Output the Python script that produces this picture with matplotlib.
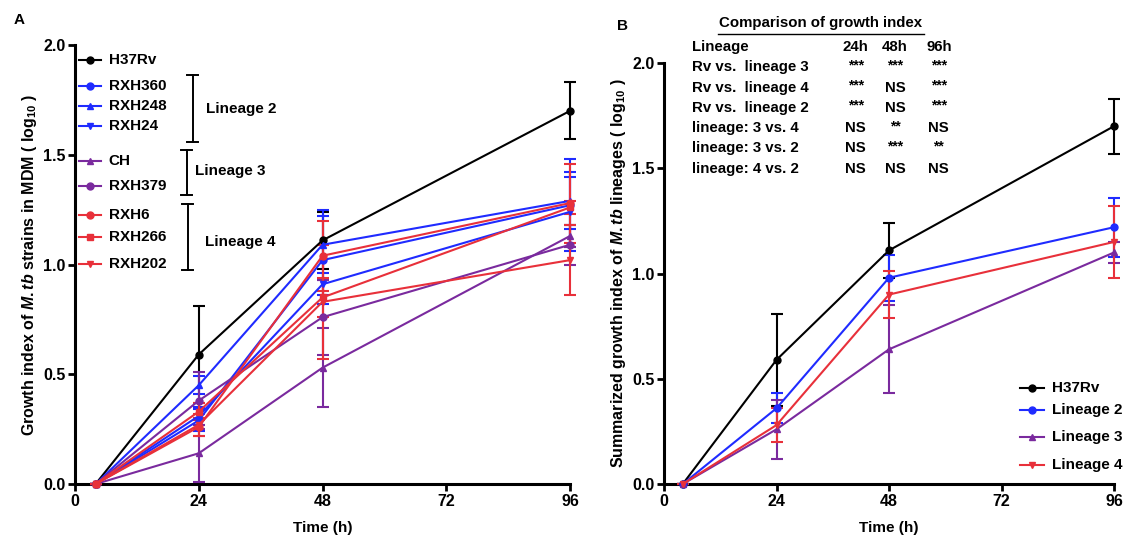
import matplotlib
matplotlib.use("Agg")
import matplotlib.pyplot as plt
import numpy as np

plt.rcParams['font.family'] = ['Liberation Sans', 'DejaVu Sans']
plt.rcParams['font.weight'] = 'bold'
plt.rcParams['mathtext.fontset'] = 'custom'
plt.rcParams['mathtext.it'] = 'Liberation Sans:italic:bold'
plt.rcParams['mathtext.rm'] = 'Liberation Sans:bold'

BLACK = '#000000'
BLUE = '#1f2bff'
PURPLE = '#7a2a9e'
RED = '#e8303a'

time_h = [4, 24, 48, 96]

# Panel A: individual strains
strains = ['H37Rv', 'RXH360', 'RXH248', 'RXH24', 'CH', 'RXH379', 'RXH6', 'RXH266', 'RXH202']
strain_colors = [BLACK, BLUE, BLUE, BLUE, PURPLE, PURPLE, RED, RED, RED]
strain_markers = ['o', 'o', '^', 'v', '^', 'o', 'o', 's', 'v']
strain_mean = [
    [0, 0.59, 1.11, 1.70],
    [0, 0.29, 1.02, 1.27],
    [0, 0.45, 1.09, 1.29],
    [0, 0.31, 0.91, 1.24],
    [0, 0.14, 0.53, 1.13],
    [0, 0.38, 0.76, 1.09],
    [0, 0.26, 1.04, 1.28],
    [0, 0.33, 0.85, 1.26],
    [0, 0.27, 0.83, 1.02],
]
strain_err = [
    [0, 0.22, 0.13, 0.13],
    [0, 0.05, 0.20, 0.21],
    [0, 0.04, 0.16, 0.13],
    [0, 0.04, 0.05, 0.16],
    [0, 0.13, 0.18, 0.05],
    [0, 0.13, 0.17, 0.09],
    [0, 0.04, 0.16, 0.18],
    [0, 0.04, 0.09, 0.03],
    [0, 0.05, 0.26, 0.16],
]

# Panel B: summarized lineages
lineages = ['H37Rv', 'Lineage 2', 'Lineage 3', 'Lineage 4']
lineage_colors = [BLACK, BLUE, PURPLE, RED]
lineage_markers = ['o', 'o', '^', 'v']
lineage_mean = [
    [0, 0.59, 1.11, 1.70],
    [0, 0.36, 0.98, 1.22],
    [0, 0.26, 0.64, 1.10],
    [0, 0.28, 0.90, 1.15],
]
lineage_err = [
    [0, 0.22, 0.13, 0.13],
    [0, 0.07, 0.11, 0.14],
    [0, 0.14, 0.21, 0.05],
    [0, 0.08, 0.11, 0.17],
]

# significance table
comparisons = ['Rv vs.  lineage 3', 'Rv vs.  lineage 4', 'Rv vs.  lineage 2',
               'lineage: 3 vs. 4', 'lineage: 3 vs. 2', 'lineage: 4 vs. 2']
sig_24h = ['***', '***', '***', 'NS', 'NS', 'NS']
sig_48h = ['***', 'NS', 'NS', '**', '***', 'NS']
sig_96h = ['***', '***', '***', 'NS', '**', 'NS']

TICK_FS = 11.5
LABEL_FS = 11
TABLE_FS = 10.8


def style_axes(ax, ylabel):
    ax.set_xlim(0, 96)
    ax.set_ylim(0, 2.0)
    ax.set_xticks([0, 24, 48, 72, 96])
    ax.set_yticks([0, 0.5, 1.0, 1.5, 2.0])
    ax.set_yticklabels(['0.0', '0.5', '1.0', '1.5', '2.0'])
    for s in ['top', 'right']:
        ax.spines[s].set_visible(False)
    for s in ['left', 'bottom']:
        ax.spines[s].set_linewidth(2.2)
    ax.tick_params(width=2, length=5, labelsize=TICK_FS, pad=2)
    for lab in ax.get_xticklabels() + ax.get_yticklabels():
        lab.set_fontweight('bold')
    ax.set_xlabel('Time (h)', fontsize=LABEL_FS, fontweight='bold', labelpad=9)
    ax.set_ylabel(ylabel, fontsize=LABEL_FS + 0.5, fontweight='bold', labelpad=3)


def draw_series(ax, means, errs, colors, markers):
    for m, e, c, mk in zip(means, errs, colors, markers):
        ax.errorbar(time_h, m, yerr=e, color=c, marker=mk, markersize=5,
                    linewidth=1.5, elinewidth=1.5, capsize=4, capthick=1.5,
                    clip_on=False, zorder=3)


fig = plt.figure(figsize=(11.23, 5.36), dpi=100)
axA = fig.add_axes([0.0668, 0.097, 0.4408, 0.819])
axB = fig.add_axes([0.5913, 0.097, 0.4007, 0.7854])

# ---- Panel A ----
draw_series(axA, strain_mean, strain_err, strain_colors, strain_markers)
style_axes(axA, 'Growth index of $\\it{M.tb}$ strains in MDM ( log$_{10}$ )')

legend_y = [0.966, 0.907, 0.861, 0.815, 0.736, 0.679, 0.613, 0.563, 0.501]
for name, c, mk, yy in zip(strains, strain_colors, strain_markers, legend_y):
    axA.plot([0.008, 0.052], [yy, yy], color=c, lw=1.5, transform=axA.transAxes, clip_on=False)
    axA.plot([0.030], [yy], marker=mk, color=c, markersize=5, transform=axA.transAxes, clip_on=False)
    axA.text(0.068, yy, name, transform=axA.transAxes, fontsize=LABEL_FS,
             fontweight='bold', va='center', ha='left')

brackets = [(0.238, 0.932, 0.779, 'Lineage 2', 0.265, 0.855),
            (0.226, 0.761, 0.658, 'Lineage 3', 0.243, 0.714),
            (0.228, 0.638, 0.487, 'Lineage 4', 0.262, 0.551)]
for bx, y0, y1, txt, tx, ty in brackets:
    axA.plot([bx, bx], [y0, y1], color='black', lw=1.4, transform=axA.transAxes, clip_on=False)
    for yc in (y0, y1):
        axA.plot([bx - 0.011, bx + 0.011], [yc, yc], color='black', lw=1.4,
                 transform=axA.transAxes, clip_on=False)
    axA.text(tx, ty, txt, transform=axA.transAxes, fontsize=LABEL_FS,
             fontweight='bold', va='center', ha='left')

fig.text(0.012, 0.962, 'A', fontsize=11, fontweight='bold', va='center')

# ---- Panel B ----
draw_series(axB, lineage_mean, lineage_err, lineage_colors, lineage_markers)
style_axes(axB, 'Summarized growth index of $\\it{M.tb}$ lineages ( log$_{10}$ )')

legB_y = [0.228, 0.176, 0.112, 0.045]
for name, c, mk, yy in zip(lineages, lineage_colors, lineage_markers, legB_y):
    axB.plot([0.790, 0.845], [yy, yy], color=c, lw=1.5, transform=axB.transAxes, clip_on=False)
    axB.plot([0.818], [yy], marker=mk, color=c, markersize=5, transform=axB.transAxes, clip_on=False)
    axB.text(0.862, yy, name, transform=axB.transAxes, fontsize=LABEL_FS,
             fontweight='bold', va='center', ha='left')

fig.text(0.549, 0.951, 'B', fontsize=11, fontweight='bold', va='center')

# comparison table above panel B
fig.text(0.731, 0.957, 'Comparison of growth index', fontsize=TABLE_FS, fontweight='bold',
         ha='center', va='center')
fig.add_artist(plt.Line2D([0.639, 0.823], [0.936, 0.936], color='black', lw=1.0,
                          transform=fig.transFigure))
col_x = [0.762, 0.797, 0.836]
row_top = 0.912
row_step = 0.0378
fig.text(0.616, row_top, 'Lineage', fontsize=TABLE_FS, fontweight='bold', va='center')
for cx, head in zip(col_x, ['24h', '48h', '96h']):
    fig.text(cx, row_top, head, fontsize=TABLE_FS, fontweight='bold', ha='center', va='center')
for i, comp in enumerate(comparisons):
    yy = row_top - (i + 1) * row_step
    fig.text(0.616, yy, comp, fontsize=TABLE_FS, fontweight='bold', va='center')
    for cx, col in zip(col_x, [sig_24h, sig_48h, sig_96h]):
        val = col[i]
        if val == 'NS':
            fig.text(cx, yy, val, fontsize=TABLE_FS, fontweight='bold', ha='center', va='center')
        else:
            fig.text(cx, yy + 0.004, val, fontsize=10, fontweight='bold', ha='center', va='center')

fig.savefig('out.png', dpi=100)
